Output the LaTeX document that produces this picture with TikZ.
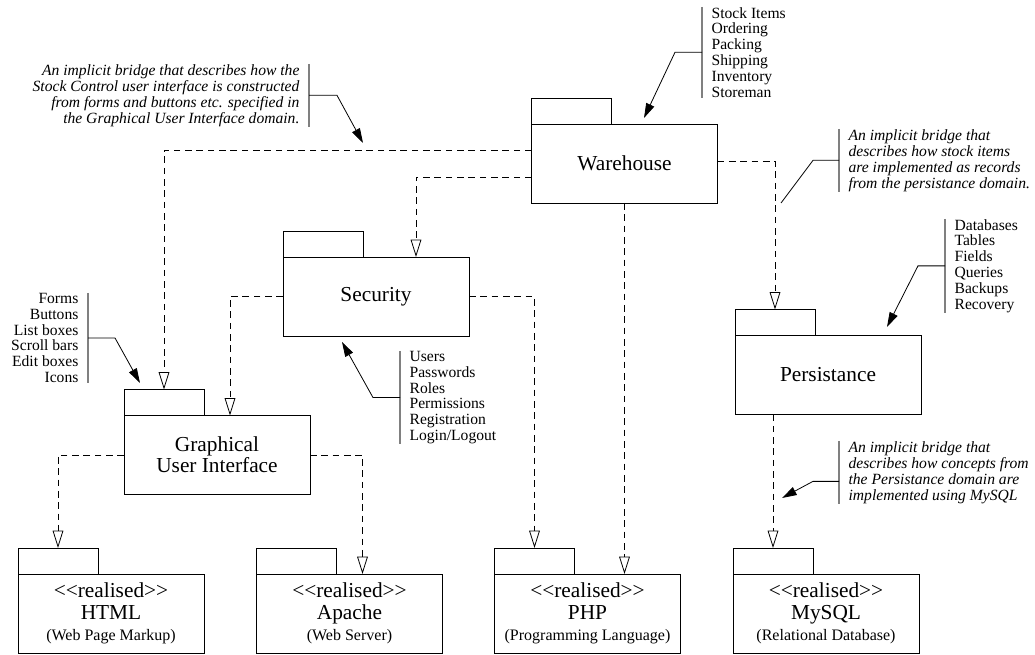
\documentclass[tikz,border=0pt]{standalone}
\usepackage{fontspec}
\setmainfont{Liberation Serif}
\usetikzlibrary{arrows.meta,calc}
\newcommand{\stereo}[1]{<\kern0pt<#1>\kern0pt>}
\newcommand{\pkgsub}[1]{{\fontsize{12}{12}\selectfont #1}}

\begin{document}
\begin{tikzpicture}[x=0.75pt,y=0.75pt,yscale=-1,
  pkg/.style={draw, line width=0.6pt, outer sep=0pt, minimum width=139.5pt, minimum height=59.25pt, align=center, font=\fontsize{16}{16}\selectfont},
  tab/.style={draw, line width=0.6pt, outer sep=0pt, inner sep=0pt, minimum width=60pt, minimum height=19.5pt, anchor=south west},
  dep/.style={line width=0.6pt, dash pattern=on 5pt off 3.5pt, -{Triangle[open,length=13pt,width=8pt,fill=white]}},
  note/.style={inner xsep=7pt, inner ysep=0pt, font=\fontsize{11.7}{11.85}\selectfont},
  bridge/.style={note, font=\fontsize{11.7}{12}\selectfont\itshape},
  bar/.style={line width=0.8pt, draw=gray},
  ptr/.style={line width=0.6pt, -{Triangle[length=11pt,width=6.5pt]}}]
\useasboundingbox (0,0) rectangle (1035,655);

%Packages
\node[pkg] (wh) at (624.5,163.5) {Warehouse};
\node[pkg] (sec) at (376,296.5) {Security};
\node[pkg] (gui) at (217,455) {Graphical\\User Interface};
\node[pkg] (per) at (828,375) {Persistance};
\node[pkg] (html) at (111,613.5) {\stereo{realised}\\HTML\\\pkgsub{(Web Page Markup)}};
\node[pkg] (apache) at (349.5,613.5) {\stereo{realised}\\Apache\\\pkgsub{(Web Server)}};
\node[pkg] (php) at (587.5,613.5) {\stereo{realised}\\PHP\\\pkgsub{(Programming Language)}};
\node[pkg] (mysql) at (826,613.5) {\stereo{realised}\\MySQL\\\pkgsub{(Relational Database)}};

%Tabs
\foreach \n in {wh,sec,gui,per,html,apache,php,mysql}
  \node[tab] (\n-tab) at (\n.north west) {};

%Dependencies
\draw[dep] ($(wh.north west)+(0,26)$) -| (gui-tab.north);
\draw[dep] ($(wh.north west)+(0,53)$) -| ($(sec.north east)+(-53,0)$);
\draw[dep] ($(wh.north east)+(0,37)$) -| (per-tab.north);
\draw[dep] (wh.south) -- (wh.south |- php.north);
\draw[dep] (sec.west) -| ($(gui.north)+(13,0)$);
\draw[dep] (sec.east) -| (php-tab.north);
\draw[dep] (gui.west) -| (html-tab.north);
\draw[dep] (gui.east) -| ($(apache.north)+(13,0)$);
\draw[dep] (mysql-tab.north |- per.south) -- (mysql-tab.north);

% Text Node
\node[note, anchor=north west, align=left] (wh-list) at (702,7) {Stock Items\\Ordering\\Packing\\Shipping\\Inventory\\Storeman};
\draw[bar] (wh-list.north west) -- (wh-list.south west);
\coordinate (wh-tip) at (644,118);
\draw[ptr] (wh-list.west) -- ++(-27,0) -- (wh-tip);

% Text Node
\node[note, anchor=north west, align=left] (sec-list) at (400,351) {Users\\Passwords\\Roles\\Permissions\\Registration\\Login/Logout};
\draw[bar] (sec-list.north west) -- (sec-list.south west);
\coordinate (sec-tip) at (342,342);
\draw[ptr] (sec-list.west) -- ++(-27,0) -- (sec-tip);

% Text Node
\node[note, anchor=north east, align=right] (gui-list) at (88,293) {Forms\\Buttons\\List boxes\\Scroll bars\\Edit boxes\\Icons};
\draw[bar] (gui-list.north east) -- (gui-list.south east);
\coordinate (gui-tip) at (140,383);
\draw[ptr] (gui-list.east) -- ++(27,0) -- (gui-tip);

% Text Node
\node[note, anchor=north west, align=left] (per-list) at (945,219) {Databases\\Tables\\Fields\\Queries\\Backups\\Recovery};
\draw[bar] (per-list.north west) -- (per-list.south west);
\coordinate (per-tip) at (887,327);
\draw[ptr] (per-list.west) -- ++(-27,0) -- (per-tip);

% Text Node
\node[bridge, anchor=north east, align=right] (gui-bridge) at (309,64) {An implicit bridge that describes how the\\Stock Control user interface is constructed\\from forms and buttons etc. specified in\\the Graphical User Interface domain.};
\draw[bar] (gui-bridge.north east) -- (gui-bridge.south east);
\coordinate (gui-bridge-tip) at (363,143);
\draw[ptr] (gui-bridge.east) -- ++(28,0) -- (gui-bridge-tip);

% Text Node
\node[bridge, anchor=north west, align=left] (per-bridge) at (839,129) {An implicit bridge that\\describes how stock items\\are implemented as records\\from the persistance domain.};
\draw[bar] (per-bridge.north west) -- (per-bridge.south west);
\coordinate (per-bridge-end) at (781,203);
\draw[line width=0.6pt] (per-bridge.west) -- ++(-26,0) -- (per-bridge-end);

% Text Node
\node[bridge, anchor=north west, align=left] (my-bridge) at (839,441) {An implicit bridge that\\describes how concepts from\\the Persistance domain are\\implemented using MySQL};
\draw[bar] (my-bridge.north west) -- (my-bridge.south west);
\coordinate (my-bridge-tip) at (782,498);
\draw[ptr] ($(my-bridge.west)+(0,9)$) -- ++(-26,0) -- (my-bridge-tip);

\end{tikzpicture}
\end{document}
